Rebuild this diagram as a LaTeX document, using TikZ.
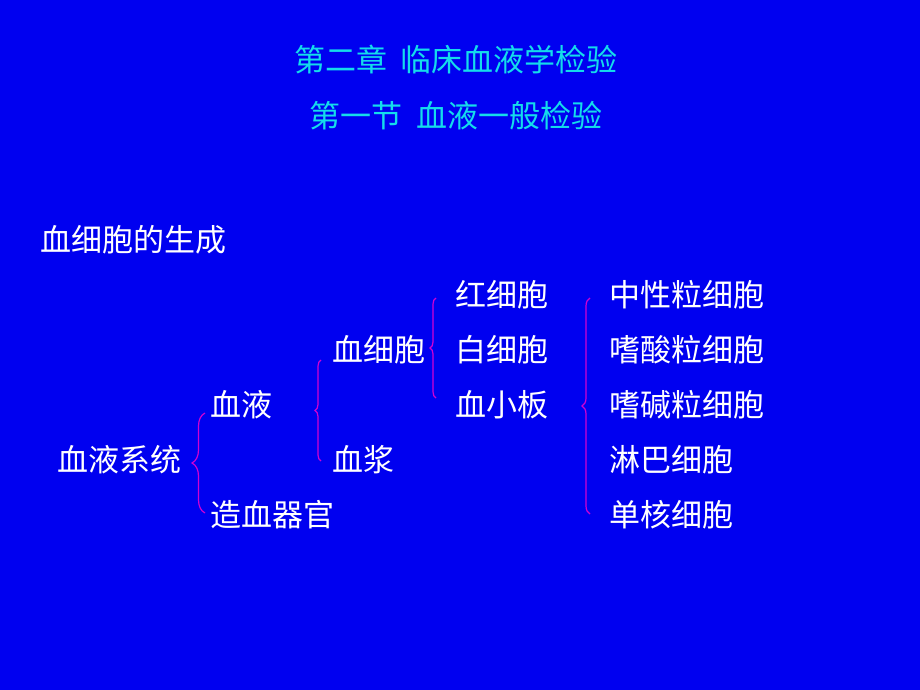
\documentclass[tikz,border=0pt]{standalone}
\usepackage{fontspec}
\newfontfamily\cjk{Noto Sans CJK SC}
\usepackage{xcolor}
\usetikzlibrary{positioning,decorations.pathreplacing}
\definecolor{slideblue}{RGB}{0,0,240}
\definecolor{titlecyan}{RGB}{20,220,235}
\definecolor{bracepink}{RGB}{210,0,210}
\tikzset{
  item/.style={anchor=west, inner sep=0pt, text=white,
               font=\cjk\fontsize{31}{34}\selectfont},
  heading/.style={inner sep=0pt, text=titlecyan,
                  font=\cjk\fontsize{31}{34}\selectfont},
  grp/.style={draw=bracepink, line width=1.2pt, decorate,
              decoration={brace, amplitude=#1}},
}

\begin{document}
\begin{tikzpicture}[x=1pt, y=-1pt]
  \fill[slideblue] (0,0) rectangle (920,690);
  \useasboundingbox (0,0) rectangle (920,690);
  % titles
  \node[heading] (chap) at (456,60) {第二章\ \ 临床血液学检验};
  \node[heading] (sect) at (456,116) {第一节\ \ 血液一般检验};
  \node[item] (intro) at (40,240) {血细胞的生成};
  % tree, column by column
  \node[item] (sys) at (57,460) {血液系统};
  \node[item] (blood) at (210,405) {血液};
  \node[item] (organ) at (210,515) {造血器官};
  \node[item] (cells) at (332,350) {血细胞};
  \node[item] (plasma) at (332,460) {血浆};
  \node[item] (rbc) at (455,295) {红细胞};
  \node[item] (wbc) at (455,350) {白细胞};
  \node[item] (plt) at (455,405) {血小板};
  \node[item] (neut) at (609,295) {中性粒细胞};
  \node[item] (eos) at (609,350) {嗜酸粒细胞};
  \node[item] (baso) at (609,405) {嗜碱粒细胞};
  \node[item] (lymph) at (609,460) {淋巴细胞};
  \node[item] (mono) at (609,515) {单核细胞};
  % braces
  \coordinate (b1t) at (205,413);  \coordinate (b1b) at (205,513);
  \coordinate (b2t) at (321,360);  \coordinate (b2b) at (321,461);
  \coordinate (b3t) at (436,298);  \coordinate (b3b) at (436,398);
  \coordinate (b4t) at (590,298);  \coordinate (b4b) at (590,514);
  \draw[grp=13pt] (b1b) -- (b1t);
  \draw[grp=6pt] (b2b) -- (b2t);
  \draw[grp=6pt] (b3b) -- (b3t);
  \draw[grp=8pt] (b4b) -- (b4t);
\end{tikzpicture}
\end{document}
